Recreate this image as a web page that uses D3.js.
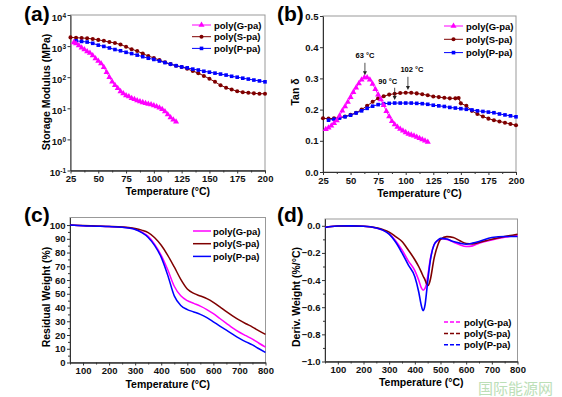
<!DOCTYPE html>
<html>
<head>
<meta charset="utf-8">
<script src="https://cdn.jsdelivr.net/npm/d3@7"></script>
<style>
  body { margin: 0; background: #fff; }
  svg { font-family: 'Liberation Sans', Arial, sans-serif; font-weight: bold; }
</style>
</head>
<body>
<svg id="chart" width="562" height="397"></svg>
<script>
const seriesNames = ['poly(G-pa)', 'poly(S-pa)', 'poly(P-pa)'];

// (a) storage modulus, MPa
const modTempG = [28, 30, 32.5, 35, 37.5, 40, 42.5, 45, 47.5, 50, 52.5, 55, 57.5, 60, 62.5, 65, 67.5, 70,
  72.5, 75, 77.5, 80, 82.5, 85, 87.5, 90, 92.5, 95, 97.5, 100, 102.5, 105, 107.5, 110, 112.5, 115, 117.5, 120];
const modG = [1318, 1202, 1047, 891, 776, 676, 603, 501, 398, 331, 275, 209, 145, 100, 72, 55, 44, 35,
  30, 26, 24, 21, 19.5, 17.8, 16.6, 15.5, 14.5, 13.8, 13.2, 12.3, 11.5, 10.5, 9.3, 7.9, 6.3, 5.1, 4.3, 3.7];
const modTempS = [25, 30, 35, 40, 45, 50, 55, 60, 65, 70, 75, 80, 85, 90, 95, 100, 105, 110, 115, 120,
  125, 130, 135, 140, 145, 150, 155, 160, 165, 170, 175, 180, 185, 190, 195, 200];
const modS = [1905, 1862, 1820, 1778, 1698, 1585, 1479, 1349, 1259, 1122, 955, 794, 692, 575, 479, 417, 355, 302, 263, 234,
  214, 186, 158, 135, 110, 89, 71, 55, 46, 40, 35.5, 33, 31.6, 30.2, 29.5, 29.5];
const modTempP = [30, 35, 40, 45, 50, 55, 60, 65, 70, 75, 80, 85, 90, 95, 100, 105, 110, 115, 120,
  125, 130, 135, 140, 145, 150, 155, 160, 165, 170, 175, 180, 185, 190, 195, 200];
const modP = [1479, 1413, 1349, 1230, 1072, 977, 871, 776, 708, 631, 575, 513, 457, 407, 372, 331, 295, 263, 234,
  214, 200, 182, 170, 155, 145, 135, 126, 117, 107, 100, 93, 87, 81, 76, 71];

// (b) tan delta
const tanTempG = [27.5, 30, 32.5, 35, 37.5, 40, 42.5, 45, 47.5, 50, 52.5, 55, 57.5, 60, 62.5, 65, 67.5, 70,
  72.5, 75, 77.5, 80, 82.5, 85, 87.5, 90, 92.5, 95, 97.5, 100, 102.5, 105, 107.5, 110, 112.5, 115, 117.5, 120];
const tanG = [0.137, 0.142, 0.148, 0.156, 0.165, 0.180, 0.196, 0.210, 0.224, 0.240, 0.256, 0.270, 0.284, 0.296, 0.303, 0.303, 0.296, 0.282,
  0.265, 0.248, 0.232, 0.214, 0.195, 0.178, 0.163, 0.152, 0.144, 0.138, 0.132, 0.127, 0.122, 0.119, 0.116, 0.112, 0.108, 0.104, 0.100, 0.096];
const tanTempS = [25, 30, 35, 40, 45, 50, 55, 60, 65, 70, 75, 80, 85, 90, 95, 100, 105, 110, 115, 120,
  125, 130, 135, 140, 145, 148, 150, 155, 160, 165, 170, 175, 180, 185, 190, 195, 200];
const tanS = [0.172, 0.171, 0.172, 0.174, 0.178, 0.183, 0.190, 0.200, 0.212, 0.225, 0.236, 0.243, 0.248, 0.251, 0.253, 0.254, 0.254, 0.252, 0.249, 0.246,
  0.242, 0.240, 0.238, 0.236, 0.236, 0.237, 0.220, 0.212, 0.196, 0.186, 0.178, 0.171, 0.166, 0.162, 0.158, 0.154, 0.150];
const tanTempP = [30, 35, 40, 45, 50, 55, 60, 65, 70, 75, 80, 85, 90, 95, 100, 105, 110, 115, 120,
  125, 130, 135, 140, 145, 150, 155, 160, 165, 170, 175, 180, 185, 190, 195, 200];
const tanP = [0.166, 0.169, 0.173, 0.177, 0.182, 0.189, 0.196, 0.204, 0.211, 0.216, 0.219, 0.220, 0.221, 0.221, 0.221, 0.221, 0.220, 0.219, 0.217,
  0.214, 0.212, 0.210, 0.207, 0.205, 0.203, 0.201, 0.199, 0.196, 0.194, 0.192, 0.190, 0.186, 0.183, 0.180, 0.177];
const peakLabels = [
  { t: 63, text: '63 °C', tip: 0.31, tail: 0.35, ty: 0.365, dx: 0 },
  { t: 102, text: '102 °C', tip: 0.263, tail: 0.305, ty: 0.32, dx: 4 },
  { t: 90, text: '90 °C', tip: 0.231, tail: 0.27, ty: 0.283, dx: -7 },
];

// (c) TGA residual weight, %
const tgaTemp = [50, 100, 150, 200, 250, 275, 300, 325, 350, 375, 400, 425, 450, 475, 500, 525, 550, 575, 600,
  625, 650, 675, 700, 725, 750, 775, 800];
const tgaG = [100, 99.5, 99.2, 98.9, 98.4, 97.9, 97.0, 95.0, 91.8, 86.0, 78.0, 67.5, 55.5, 48.5, 45.0, 43.0, 41.0, 38.5, 35.5,
  32.0, 28.5, 25.0, 22.0, 19.5, 17.0, 14.0, 11.2];
const tgaS = [100, 99.6, 99.3, 99.0, 98.6, 98.2, 97.5, 96.3, 94.5, 90.8, 85.3, 78.0, 69.5, 60.5, 53.5, 50.3, 48.4, 46.5, 43.8,
  40.5, 37.0, 33.8, 30.8, 28.2, 25.8, 23.0, 20.5];
const tgaP = [100, 99.5, 99.2, 98.9, 98.4, 97.8, 96.8, 94.5, 91.0, 85.0, 76.5, 63.5, 48.5, 41.5, 38.5, 36.8, 35.0, 32.6, 29.6,
  26.5, 23.5, 20.5, 17.6, 15.0, 12.8, 10.0, 7.3];

// (d) DTG, %/°C
const dtgTemp = [50, 75, 100, 150, 200, 250, 275, 300, 325, 350, 375, 400, 415, 425, 432, 440, 445, 452, 460, 475,
  490, 500, 525, 550, 575, 600, 625, 650, 700, 750, 800];
const dtgG = [-0.012, -0.005, -0.002, -0.001, -0.003, -0.017, -0.032, -0.06, -0.11, -0.178, -0.26, -0.33, -0.40, -0.455, -0.475, -0.46, -0.43, -0.35, -0.25, -0.14,
  -0.108, -0.095, -0.10, -0.12, -0.14, -0.153, -0.148, -0.128, -0.104, -0.084, -0.072];
const dtgS = [-0.012, -0.005, -0.002, -0.001, -0.003, -0.015, -0.028, -0.047, -0.08, -0.116, -0.18, -0.25, -0.30, -0.34, -0.37, -0.40, -0.425, -0.44, -0.40, -0.24,
  -0.14, -0.10, -0.08, -0.086, -0.11, -0.13, -0.133, -0.123, -0.099, -0.079, -0.062];
const dtgP = [-0.012, -0.005, -0.002, -0.001, -0.003, -0.017, -0.032, -0.062, -0.12, -0.20, -0.29, -0.375, -0.486, -0.585, -0.625, -0.58, -0.50, -0.38, -0.26, -0.14,
  -0.105, -0.093, -0.098, -0.116, -0.128, -0.136, -0.128, -0.116, -0.086, -0.079, -0.079];

const colors = ['#ff00ff', '#7f0000', '#0000ff'];
const symbols = [d3.symbolTriangle, d3.symbolCircle, d3.symbolSquare];
const symSizes = [16, 13, 13];

const svg = d3.select('#chart');
const zip = (xs, ys) => xs.map((x, i) => [x, ys[i]]);

// box + axes for one panel
function panel(opt) {
  const g = svg.append('g');
  const { x, y } = opt;
  const [x0, x1] = x.range();
  const [yb, yt] = y.range();

  g.append('rect')
    .attr('x', x0).attr('y', yt)
    .attr('width', x1 - x0).attr('height', yb - yt)
    .attr('fill', 'none').attr('stroke', '#999').attr('stroke-width', 1);

  const styleAxis = (sel) => {
    sel.select('.domain').attr('stroke', '#333');
    sel.selectAll('.tick line').attr('stroke', '#333');
    sel.selectAll('text').attr('fill', '#111').attr('font-size', 9.5).attr('font-weight', 'bold')
      .attr('font-family', "'Liberation Sans', Arial, sans-serif");
  };

  g.append('g').attr('transform', `translate(0,${yb})`)
    .call(d3.axisBottom(x).tickValues(opt.xMinor).tickFormat('').tickSize(2).tickSizeOuter(0))
    .call(styleAxis);
  g.append('g').attr('transform', `translate(0,${yb})`)
    .call(d3.axisBottom(x).tickValues(opt.xTicks).tickFormat(opt.xFmt || d3.format('d')).tickSize(3).tickSizeOuter(0).tickPadding(2))
    .call(styleAxis);
  if (opt.yMinor) {
    g.append('g').attr('transform', `translate(${x0},0)`)
      .call(d3.axisLeft(y).tickValues(opt.yMinor).tickFormat('').tickSize(2).tickSizeOuter(0))
      .call(styleAxis);
  }
  const ya = g.append('g').attr('class', 'yaxis').attr('transform', `translate(${x0},0)`)
    .call(d3.axisLeft(y).tickValues(opt.yTicks).tickFormat(opt.yFmt).tickSize(3).tickSizeOuter(0).tickPadding(1.5))
    .call(styleAxis);

  g.append('text')
    .attr('x', (x0 + x1) / 2).attr('y', opt.xTitleY)
    .attr('text-anchor', 'middle').attr('font-size', 10.5)
    .text('Temperature (°C)');
  g.append('text')
    .attr('transform', `translate(${opt.yTitleX},${opt.yTitleCy}) rotate(-90)`)
    .attr('text-anchor', 'middle').attr('font-size', 10.5)
    .text(opt.yTitle);
  g.append('text')
    .attr('x', opt.label[0]).attr('y', opt.label[1])
    .attr('font-size', 21)
    .text(opt.label[2]);
  return { g, ya };
}

function markedSeries(g, x, y, data, i) {
  g.append('path')
    .datum(data)
    .attr('fill', 'none').attr('stroke', colors[i]).attr('stroke-width', 1)
    .attr('d', d3.line().x(d => x(d[0])).y(d => y(d[1])));
  g.append('g').selectAll('path')
    .data(data)
    .join('path')
    .attr('transform', d => `translate(${x(d[0])},${y(d[1])})`)
    .attr('d', d3.symbol(symbols[i], symSizes[i]))
    .attr('fill', colors[i]);
}

function markedLegend(g, lx, ty, gap) {
  seriesNames.forEach((name, i) => {
    const yy = ty + i * gap;
    g.append('line').attr('x1', lx).attr('x2', lx + 19).attr('y1', yy).attr('y2', yy)
      .attr('stroke', colors[i]).attr('stroke-width', 1);
    g.append('path').attr('transform', `translate(${lx + 9.5},${yy})`)
      .attr('d', d3.symbol(symbols[i], symSizes[i])).attr('fill', colors[i]);
    g.append('text').attr('x', lx + 22).attr('y', yy + 3.5).attr('font-size', 9.5).text(name);
  });
}

function lineLegend(g, lx, ty, gap, dash) {
  seriesNames.forEach((name, i) => {
    const yy = ty + i * gap;
    g.append('line').attr('x1', lx).attr('x2', lx + 18).attr('y1', yy).attr('y2', yy)
      .attr('stroke', colors[i]).attr('stroke-width', 1.5)
      .attr('stroke-dasharray', dash ? '4,2' : null);
    g.append('text').attr('x', lx + 20).attr('y', yy + 3.5).attr('font-size', 9.5).text(name);
  });
}

// ---------- (a)
{
  const x = d3.scaleLinear().domain([25, 200]).range([70.5, 265]);
  const y = d3.scaleLog().domain([0.1, 1e4]).range([170.5, 15]);
  const { g, ya } = panel({
    x, y,
    xTicks: d3.range(25, 201, 25), xMinor: d3.range(37.5, 200, 25),
    yTicks: [0.1, 1, 10, 100, 1000, 10000], yFmt: () => '10',
    xTitleY: 195, yTitleX: 50, yTitleCy: 92, yTitle: 'Storage Modulus (MPa)',
    label: [24, 21, '(a)'],
  });
  ya.selectAll('.tick text').each(function (d) {
    d3.select(this).append('tspan')
      .attr('dy', '-0.45em').attr('font-size', 6.5)
      .text(Math.round(Math.log10(d)));
  });
  ya.selectAll('.tick text').attr('dy', '0.55em');
  [[modTempS, modS], [modTempP, modP], [modTempG, modG]].forEach((s, k) => {
    const i = [1, 2, 0][k];
    markedSeries(g, x, y, zip(s[0], s[1]), i);
  });
  markedLegend(g, 192, 25, 11.7);
}

// ---------- (b)
{
  const x = d3.scaleLinear().domain([25, 200]).range([323, 516]);
  const y = d3.scaleLinear().domain([0, 0.5]).range([172, 16]);
  const { g } = panel({
    x, y,
    xTicks: d3.range(25, 201, 25), xMinor: d3.range(37.5, 200, 25),
    yTicks: d3.range(0, 0.51, 0.1), yFmt: d3.format('.1f'),
    xTitleY: 197, yTitleX: 299, yTitleCy: 92, yTitle: 'Tan δ',
    label: [277, 21, '(b)'],
  });
  [[tanTempS, tanS, 1], [tanTempP, tanP, 2], [tanTempG, tanG, 0]].forEach(s => {
    markedSeries(g, x, y, zip(s[0], s[1]), s[2]);
  });
  peakLabels.forEach(p => {
    const px = x(p.t);
    g.append('line').attr('x1', px).attr('x2', px).attr('y1', y(p.tail)).attr('y2', y(p.tip) - 3)
      .attr('stroke', '#222').attr('stroke-width', 0.8);
    g.append('path')
      .attr('d', `M${px - 2},${y(p.tip) - 4}L${px + 2},${y(p.tip) - 4}L${px},${y(p.tip)}Z`)
      .attr('fill', '#222');
    g.append('text').attr('x', px + p.dx).attr('y', y(p.ty))
      .attr('text-anchor', 'middle').attr('font-size', 7.5).text(p.text);
  });
  markedLegend(g, 444, 26, 13.3);
}

// ---------- (c)
{
  const x = d3.scaleLinear().domain([50, 800]).range([70, 265.5]);
  const y = d3.scaleLinear().domain([0, 105.5]).range([362.5, 217.5]);
  const { g } = panel({
    x, y,
    xTicks: d3.range(100, 801, 100), xMinor: d3.range(50, 800, 100),
    yTicks: d3.range(0, 101, 10), yMinor: d3.range(5, 101, 10), yFmt: d3.format('d'),
    xTitleY: 388, yTitleX: 50, yTitleCy: 297, yTitle: 'Residual Weight (%)',
    label: [24, 222, '(c)'],
  });
  [[tgaG, 0], [tgaS, 1], [tgaP, 2]].forEach(s => {
    g.append('path').datum(zip(tgaTemp, s[0]))
      .attr('fill', 'none').attr('stroke', colors[s[1]]).attr('stroke-width', 1.5)
      .attr('d', d3.line().curve(d3.curveMonotoneX).x(d => x(d[0])).y(d => y(d[1])));
  });
  lineLegend(g, 193, 231, 12.7, false);
}

// ---------- (d)
{
  const x = d3.scaleLinear().domain([50, 800]).range([325, 517.5]);
  const y = d3.scaleLinear().domain([-1, 0.05]).range([361.5, 219]);
  const { g } = panel({
    x, y,
    xTicks: d3.range(100, 801, 100), xMinor: d3.range(50, 800, 100),
    yTicks: d3.range(-1, 0.01, 0.2), yMinor: d3.range(-0.9, 0.01, 0.2), yFmt: d3.format('.1f'),
    xTitleY: 386, yTitleX: 300, yTitleCy: 297, yTitle: 'Deriv. Weight (%/°C)',
    label: [277, 222, '(d)'],
  });
  [[dtgG, 0], [dtgS, 1], [dtgP, 2]].forEach(s => {
    g.append('path').datum(zip(dtgTemp, s[0]))
      .attr('fill', 'none').attr('stroke', colors[s[1]]).attr('stroke-width', 1.6)
      .attr('d', d3.line().curve(d3.curveMonotoneX).x(d => x(d[0])).y(d => y(d[1])));
  });
  lineLegend(g, 444, 322, 11.4, true);
}

// watermark
svg.append('text')
  .attr('x', 478).attr('y', 394)
  .attr('font-family', "'Noto Sans CJK SC', sans-serif")
  .attr('font-size', 15).attr('font-weight', 'normal')
  .attr('fill', '#b5dcb0').attr('opacity', 0.9)
  .text('国际能源网');
</script>
</body>
</html>
